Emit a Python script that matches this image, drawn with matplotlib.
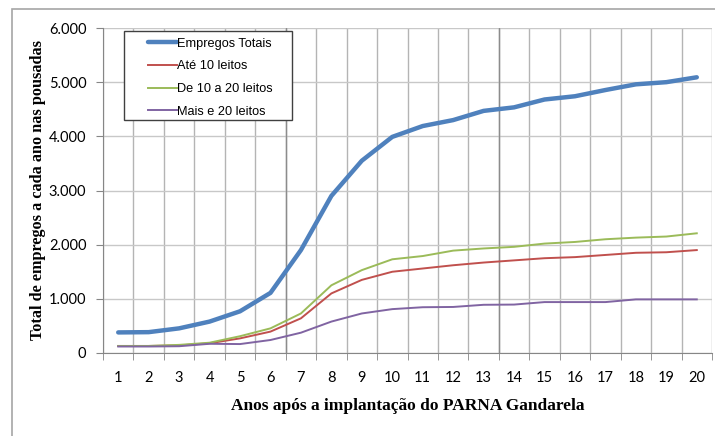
import matplotlib.pyplot as plt
from matplotlib.patches import Rectangle
from matplotlib.ticker import FuncFormatter

anos = list(range(1, 21))
empregos_totais = [380, 385, 455, 580, 770, 1110, 1900, 2900, 3550, 3990,
                   4190, 4300, 4470, 4535, 4680, 4740, 4855, 4960, 5000, 5090]
ate_10 = [130, 130, 140, 180, 270, 395, 640, 1100, 1350, 1500,
          1560, 1620, 1670, 1710, 1750, 1770, 1810, 1850, 1860, 1900]
de_10_a_20 = [130, 130, 150, 190, 310, 455, 730, 1250, 1530, 1730,
              1790, 1890, 1930, 1960, 2020, 2050, 2100, 2130, 2150, 2210]
mais_20 = [120, 120, 125, 170, 165, 240, 375, 580, 730, 810,
           845, 850, 890, 894, 940, 940, 940, 990, 990, 990]
nomes = ['Empregos Totais', 'Até 10 leitos', 'De 10 a 20 leitos', 'Mais e 20 leitos']

fig = plt.figure(figsize=(7.15, 4.36), dpi=100)
ax = fig.add_axes([103 / 715, 1 - 353 / 436, 609 / 715, 325 / 436])

# moldura externa do grafico
fig.patches.append(Rectangle((12 / 715, -0.1), 1.2, (436 - 9) / 436 + 0.1,
                             transform=fig.transFigure, fill=False,
                             edgecolor='#a6a6a6', linewidth=1.2))

ax.plot(anos, empregos_totais, color='#4f81bd', lw=3.2, label=nomes[0],
        solid_capstyle='round', solid_joinstyle='round', zorder=5)
ax.plot(anos, ate_10, color='#c0504d', lw=1.4, label=nomes[1], zorder=4)
ax.plot(anos, de_10_a_20, color='#9bbb59', lw=1.4, label=nomes[2], zorder=4)
ax.plot(anos, mais_20, color='#8064a2', lw=1.4, label=nomes[3], zorder=4)

ax.set_xlim(0.5, 20.5)
ax.set_ylim(0, 6000)
ax.set_yticks(range(0, 6001, 1000))
ax.yaxis.set_major_formatter(FuncFormatter(lambda v, p: f'{int(v):,}'.replace(',', '.')))

# categorias centradas, grade nas divisas
ax.set_xticks(anos)
ax.set_xticks([a + 0.5 for a in range(0, 21)], minor=True)
ax.tick_params(axis='x', which='major', length=0, pad=13, labelsize=10.5)
ax.tick_params(axis='x', which='minor', length=5, color='#868686')
ax.tick_params(axis='y', length=5, color='#868686', pad=7, labelsize=10.5)
for lab in ax.get_xticklabels() + ax.get_yticklabels():
    lab.set_family('Lato')

ax.grid(True, axis='y', color='#c8c8c8', lw=1.0)
ax.grid(True, axis='x', which='minor', color='#b4b4b4', lw=1.0)
ax.axvline(6.5, color='#8c8c8c', lw=1.0, zorder=1)
ax.axvline(13.5, color='#8c8c8c', lw=1.0, zorder=1)
ax.set_axisbelow(True)

for s in ['top', 'right']:
    ax.spines[s].set_visible(False)
ax.spines['left'].set_color('#868686')
ax.spines['bottom'].set_color('#868686')

ax.set_xlabel('Anos após a implantação do PARNA Gandarela', family='Liberation Serif',
              fontweight='bold', fontsize=12.5, labelpad=9)
ax.set_ylabel('Total de empregos a cada ano nas pousadas', family='Liberation Serif',
              fontweight='bold', fontsize=11.7, labelpad=2)

# caixa da legenda
ax.add_patch(Rectangle((0.0345, 0.717), 0.2755, 0.274, transform=ax.transAxes,
                       facecolor='white', edgecolor='#404040', lw=1.0, zorder=6))
leg = ax.legend(loc='upper left', bbox_to_anchor=(0.0739, 0.970), frameon=False,
                borderpad=0, borderaxespad=0, handlelength=2.25, handletextpad=0,
                labelspacing=0.84, prop={'family': 'Liberation Sans', 'size': 9.2})
leg.set_zorder(7)

plt.savefig('out.png', dpi=100)
